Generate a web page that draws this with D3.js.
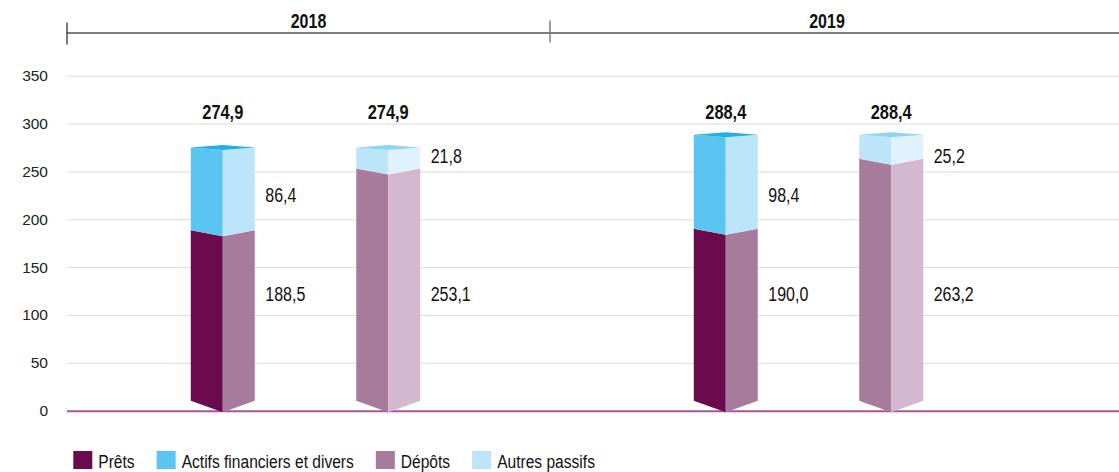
<!DOCTYPE html>
<html>
<head>
<meta charset="utf-8">
<script src="https://cdn.jsdelivr.net/npm/d3@7"></script>
<style>
  body { margin: 0; background: #fff; }
  svg { display: block; }
</style>
</head>
<body>
<div id="chart"></div>
<script>
// Data (milliards)
const years = ["2018", "2019"];
const sides = ["actifs", "passifs"];
const actifsKeys = ["Prêts", "Actifs financiers et divers"];
const passifsKeys = ["Dépôts", "Autres passifs"];
const prets = [188.5, 190.0];
const actifsFinanciers = [86.4, 98.4];
const depots = [253.1, 263.2];
const autresPassifs = [21.8, 25.2];
const totals = [274.9, 288.4];
const yTicks = [0, 50, 100, 150, 200, 250, 300, 350];
const legendLabels = ["Prêts", "Actifs financiers et divers", "Dépôts", "Autres passifs"];

// colours: front-left face, right face, top cap
var colors = {
    "Prêts": { left: "#6b0a4d", right: "#a77b9c", cap: "#6b0a4d" },
    "Actifs financiers et divers": { left: "#5bc5f1", right: "#bde5f9", cap: "#1db1e7" },
    "Dépôts": { left: "#a77b9c", right: "#d3b8cf", cap: "#a77b9c" },
    "Autres passifs": { left: "#bde5f9", right: "#dff2fd", cap: "#8fd4f4" }
};

// no narrow font installed: squeeze Liberation Sans horizontally
var font = "'Liberation Sans', Arial, sans-serif";
var squeeze = 0.82;
var fmt = d3.formatLocale({ decimal: ",", thousands: " ", grouping: [3], currency: ["", " €"] }).format(".1f");

var width = 1119, height = 472;
var svg = d3.select("#chart").append("svg")
    .attr("width", width)
    .attr("height", height);

function narrowText(parent, x, y, str, size, bold, anchor) {
    return parent.append("text")
        .attr("transform", "translate(" + x + "," + y + ") scale(" + squeeze + ",1)")
        .attr("text-anchor", anchor || "start")
        .style("font-family", font)
        .style("font-weight", bold ? "bold" : "normal")
        .style("font-size", size + "px")
        .attr("fill", "#111")
        .text(str);
}

var y = d3.scaleLinear().domain([0, 350]).range([410.7, 75.7]);
var x0 = d3.scaleBand().domain(years).range([54, 1060]);
var x1 = d3.scalePoint().domain(sides).range([0, x0.bandwidth()]).padding(1.02);

var halfW = 32;   // width of one face
var dip = 6;      // perspective drop of the front edge
var capDip = 2.5;

// Y axis with gridlines
var gridLeft = 67;
var yAxis = svg.append("g")
    .attr("transform", "translate(" + gridLeft + ",0)")
    .call(d3.axisLeft(y).tickValues(yTicks).tickSize(-(width - gridLeft)).tickPadding(19).tickFormat(d3.format("d")));
yAxis.select(".domain").remove();
yAxis.selectAll(".tick line")
    .attr("stroke", d => d === 0 ? "#a6559d" : "#dcdcdc")
    .attr("stroke-width", d => d === 0 ? 2 : 1);
yAxis.selectAll(".tick text")
    .attr("fill", "#222")
    .style("font-family", font)
    .style("font-size", "15.5px");

// Header with years
var hdrY = 33;
var hdrBounds = [67, 550, 1104];
svg.append("line")
    .attr("x1", hdrBounds[0]).attr("x2", width)
    .attr("y1", hdrY).attr("y2", hdrY)
    .attr("stroke", "#555").attr("stroke-width", 1.6);
svg.append("line")
    .attr("x1", hdrBounds[0]).attr("x2", hdrBounds[0])
    .attr("y1", 22.5).attr("y2", 44.5)
    .attr("stroke", "#222").attr("stroke-width", 1.2);
svg.append("line")
    .attr("x1", hdrBounds[1]).attr("x2", hdrBounds[1])
    .attr("y1", 20.5).attr("y2", 42.5)
    .attr("stroke", "#777").attr("stroke-width", 1.4);
years.forEach((yr, i) => {
    narrowText(svg, (hdrBounds[i] + hdrBounds[i + 1]) / 2, 28, yr, 19.5, true, "middle");
});

// stacks
var actifsRows = years.map((yr, i) => ({ year: yr, "Prêts": prets[i], "Actifs financiers et divers": actifsFinanciers[i] }));
var passifsRows = years.map((yr, i) => ({ year: yr, "Dépôts": depots[i], "Autres passifs": autresPassifs[i] }));
var stacks = {
    actifs: d3.stack().keys(actifsKeys)(actifsRows),
    passifs: d3.stack().keys(passifsKeys)(passifsRows)
};

var segments = [];
sides.forEach(side => {
    stacks[side].forEach((layer, li) => {
        layer.forEach((pt, i) => {
            segments.push({
                key: layer.key, side: side, year: years[i],
                v0: pt[0], v1: pt[1], isTop: li === stacks[side].length - 1
            });
        });
    });
});

function cxOf(d) { return x0(d.year) + x1(d.side); }

function corners(d) {
    var cx = cxOf(d);
    var tc = y(d.v1);
    var tm = d.isTop ? tc + capDip : tc + dip;
    var bc = d.v0 === 0 ? y(0) - 10 : y(d.v0);
    var bm = d.v0 === 0 ? y(0) + 1.5 : y(d.v0) + dip;
    return { cx: cx, tc: tc, tm: tm, bc: bc, bm: bm };
}

var bars = svg.append("g");
bars.selectAll("polygon.left")
    .data(segments)
    .enter()
    .append("polygon")
    .attr("points", d => {
        var c = corners(d);
        return [[c.cx - halfW, c.tc], [c.cx, c.tm], [c.cx, c.bm], [c.cx - halfW, c.bc]].join(" ");
    })
    .attr("fill", d => colors[d.key].left);
bars.selectAll("polygon.right")
    .data(segments)
    .enter()
    .append("polygon")
    .attr("points", d => {
        var c = corners(d);
        return [[c.cx, c.tm], [c.cx + halfW, c.tc], [c.cx + halfW, c.bc], [c.cx, c.bm]].join(" ");
    })
    .attr("fill", d => colors[d.key].right);
bars.selectAll("polygon.cap")
    .data(segments.filter(d => d.isTop))
    .enter()
    .append("polygon")
    .attr("points", d => {
        var c = corners(d);
        return [[c.cx - halfW, c.tc], [c.cx, c.tc - 2.5], [c.cx + halfW, c.tc], [c.cx, c.tm]].join(" ");
    })
    .attr("fill", d => colors[d.key].cap);

// totals above bars
years.forEach((yr, i) => sides.forEach(side => {
    narrowText(svg, cxOf({ year: yr, side: side }), y(300) - 4.5, fmt(totals[i]), 20, true, "middle");
}));

// segment labels on the right of each bar
var labelAt = { "Prêts": 122, "Dépôts": 122, "Actifs financiers et divers": 225, "Autres passifs": 266 };
segments.forEach(d => {
    narrowText(svg, cxOf(d) + halfW + 10.5, y(labelAt[d.key]) + 7, fmt(d.v1 - d.v0), 19.5, false, "start");
});

// legend
var legend = svg.append("g").attr("transform", "translate(73.3,451)");
var lx = 0;
legendLabels.forEach(name => {
    var item = legend.append("g").attr("transform", "translate(" + lx + ",0)");
    item.append("rect")
        .attr("width", 19).attr("height", 18)
        .attr("fill", colors[name].left);
    var t = narrowText(item, 25, 17.3, name, 19, false, "start");
    lx += 25 + t.node().getComputedTextLength() * squeeze + 22;
});
</script>
</body>
</html>
